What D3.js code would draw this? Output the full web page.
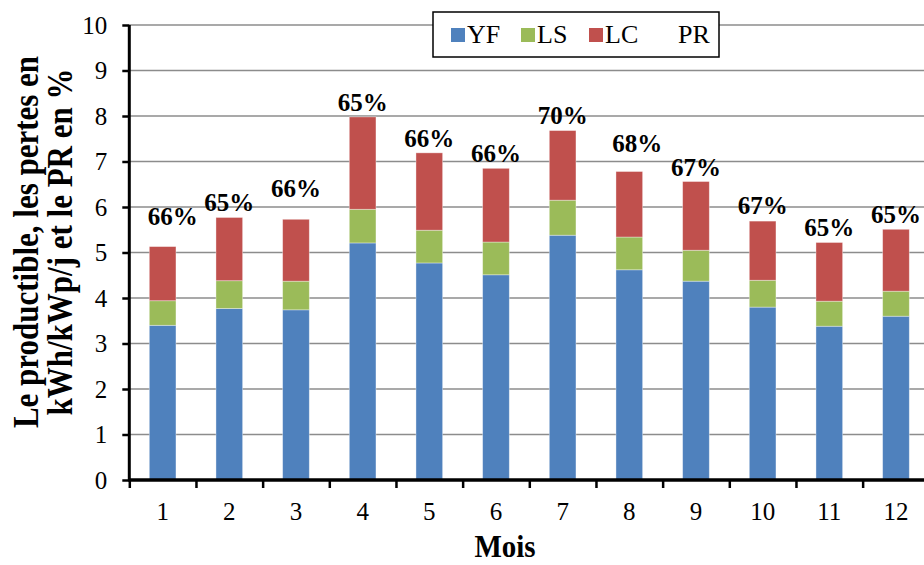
<!DOCTYPE html>
<html><head><meta charset="utf-8">
<script src="https://cdn.jsdelivr.net/npm/d3@7"></script>
<style>body{margin:0;background:#fff}svg{display:block}svg text{font-family:"Times New Roman",Tinos,"Liberation Serif",Times,serif !important}</style>
</head><body><svg id="c" width="924" height="565"></svg>
<script>
const months = ["1","2","3","4","5","6","7","8","9","10","11","12"];
const YF = [3.40,3.77,3.74,5.21,4.77,4.51,5.38,4.62,4.37,3.80,3.38,3.60];
const LS = [0.54,0.61,0.63,0.74,0.72,0.72,0.77,0.72,0.68,0.59,0.55,0.55];
const LC = [1.19,1.39,1.36,2.03,1.70,1.62,1.53,1.44,1.51,1.30,1.29,1.36];
const PR = [66,65,66,65,66,66,70,68,67,67,65,65];
const yTicks = [0,1,2,3,4,5,6,7,8,9,10];
const seriesNames = ["YF","LS","LC"];
const colors = {YF:"#4F81BD", LS:"#9BBB59", LC:"#C0504D"};

const svg = d3.select("#c");
const x0 = 129.3, x1 = 929.3, yTop = 25, yBot = 480;
const x = d3.scaleBand().domain(months).range([x0,x1]).paddingInner(0.6).paddingOuter(0.3);
const xb = d3.scaleLinear().domain([0,12]).range([x0,x1]);
const y = d3.scaleLinear().domain([0,10]).range([yBot,yTop]);

// gridlines
svg.append("g").selectAll("line").data(yTicks.filter(t=>t>0)).join("line")
  .attr("x1",x0).attr("x2",924).attr("y1",d=>y(d)).attr("y2",d=>y(d))
  .attr("stroke","#8c8c8c").attr("stroke-width",1.6);

// stacked bars
const rows = months.map((m,i)=>({m, YF:YF[i], LS:LS[i], LC:LC[i]}));
const stack = d3.stack().keys(seriesNames)(rows);
svg.append("g").selectAll("g").data(stack).join("g")
  .attr("fill",d=>colors[d.key])
  .selectAll("rect").data(d=>d).join("rect")
  .attr("x",d=>x(d.data.m)).attr("width",x.bandwidth())
  .attr("y",d=>y(d[1])).attr("height",d=>y(d[0])-y(d[1]))
  .attr("stroke","rgba(255,255,255,0.45)").attr("stroke-width",0.8);

// axes
const yAxis = svg.append("g").attr("transform",`translate(${x0},0)`)
  .call(d3.axisLeft(y).tickValues(yTicks).tickSize(7).tickPadding(15));
yAxis.attr("font-family",null);
yAxis.select(".domain").attr("stroke","#000").attr("stroke-width",3).attr("d",`M0,${yTop}V${yBot}`);
yAxis.selectAll(".tick line").attr("stroke","#000").attr("stroke-width",2.5);
yAxis.selectAll(".tick text").attr("font-size",25).attr("fill","#000").attr("dy","0.33em");

const xAxis = svg.append("g").attr("transform",`translate(0,${yBot})`)
  .call(d3.axisBottom(xb).tickValues(d3.range(0,13)).tickSize(8).tickFormat(""));
xAxis.select(".domain").attr("stroke","#000").attr("stroke-width",3.5).attr("d",`M${x0-1},0H924`);
xAxis.selectAll(".tick line").attr("stroke","#000").attr("stroke-width",2.5);

const xLab = svg.append("g").attr("transform",`translate(0,${yBot})`)
  .call(d3.axisBottom(x).tickSize(0).tickPadding(0));
xLab.attr("font-family",null);
xLab.select(".domain").remove();
xLab.selectAll(".tick text").attr("font-size",25).attr("fill","#000").attr("y",40).attr("dy",0);

// PR labels (layout nudges for overlapping labels)
const lift = {0:22,2:22,7:20,6:7,9:7};
const shift = {0:10,7:8};
svg.append("g").selectAll("text").data(months).join("text")
  .attr("x",(d,i)=>x(d)+x.bandwidth()/2+(shift[i]||0))
  .attr("y",(d,i)=>y(YF[i]+LS[i]+LC[i])-(lift[i]||6))
  .attr("text-anchor","middle").attr("font-size",25).attr("font-weight","bold")
  .text((d,i)=>PR[i]+"%");

// legend
const lg = svg.append("g");
lg.append("rect").attr("x",433).attr("y",12).attr("width",286).attr("height",45)
  .attr("fill","#fff").attr("stroke","#000").attr("stroke-width",1.5);
const items = [{k:"YF",sx:451,tx:467},{k:"LS",sx:521,tx:537},{k:"LC",sx:589,tx:605},{k:"PR",sx:null,tx:678}];
items.forEach(it=>{
  if(it.sx!==null) lg.append("rect").attr("x",it.sx).attr("y",28).attr("width",14).attr("height",14).attr("fill",colors[it.k]);
  lg.append("text").attr("x",it.tx).attr("y",43).attr("font-size",26).text(it.k);
});

// titles
svg.append("text").attr("transform","translate(505,557) scale(1,1.12)").attr("text-anchor","middle")
  .attr("font-size",29).attr("font-weight","bold").text("Mois");
const yt = svg.append("text").attr("transform","translate(38,242) rotate(-90) scale(1,1.15)")
  .attr("text-anchor","middle").attr("font-size",31).attr("font-weight","bold");
yt.append("tspan").attr("x",0).attr("y",0).text("Le productible, les pertes en");
yt.append("tspan").attr("x",0).attr("y",30).text("kWh/kWp/j et le PR en %");
</script></body></html>
